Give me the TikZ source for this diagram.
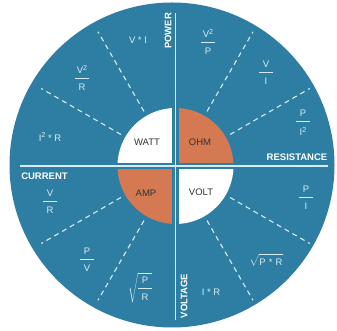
\documentclass[tikz,border=0pt]{standalone}
\usepackage{fontspec}
\setmainfont{Liberation Sans}
\definecolor{dialblue}{HTML}{2E7EA3}
\definecolor{ohmorange}{HTML}{D47952}
\definecolor{paleline}{HTML}{D6ECF4}
\definecolor{unitgray}{HTML}{333333}
% stacked fraction with a short bold bar
\newcommand\fr[2]{\vbox{\offinterlineskip\halign{\hfil##\hfil\cr#1\cr\noalign{\vskip4.5pt}\rule{14pt}{1.3pt}\cr\noalign{\vskip5pt}#2\cr}}}
% raised exponent
\newcommand\sq[1]{\raisebox{3.3pt}{\fontsize{7.2}{8}\selectfont#1}}
\begin{document}
\begin{tikzpicture}[x=1pt,y=1pt,
  axislabel/.style={text=white,font=\fontsize{9.5}{11}\selectfont\bfseries,inner sep=0},
  unitlabel/.style={text=unitgray,font=\fontsize{9.5}{11}\selectfont,inner sep=0},
  formula/.style={text=paleline,font=\fontsize{9.5}{11}\selectfont,inner sep=0},
  divider/.style={paleline,dash pattern=on 5pt off 4pt,line width=1.1pt},
  gap/.style={dialblue,line width=6.5pt},
  axis/.style={paleline,line width=1.6pt}]
\useasboundingbox (0,0) rectangle (337,331);

% dial face
\fill[dialblue] (172,166) circle (162.5);

% centre of the four quadrants and the axis ends
\coordinate (c) at (175.5,165);
\coordinate (top) at (175.5,318);
\coordinate (bottom) at (175.5,11);
\coordinate (left) at (20,165);
\coordinate (right) at (328,165);

% inner quarter discs
\fill[white]     (c) -- ++(-58,0) arc (180:90:58) -- cycle;
\fill[ohmorange] (c) -- ++(0,58) arc (90:0:58) -- cycle;
\fill[ohmorange] (c) -- ++(-58,0) arc (180:270:58) -- cycle;
\fill[white]     (c) -- ++(58,0) arc (0:-90:58) -- cycle;

% dashed sector dividers
\foreach \a in {30,60,120,150,210,240,300,330}
  \draw[divider] (c) ++(\a:63) -- ++(\a:92);

% axes with a blue gap on each side
\draw[gap] (top) -- (bottom);
\draw[gap] (left) -- (right);
\draw[axis] (top) -- (bottom);
\draw[axis] (left) -- (right);

% unit names
\node[unitlabel] (watt) at (147,189) {WATT};
\node[unitlabel] (ohm)  at (200,189) {OHM};
\node[unitlabel] (amp)  at (146,138) {AMP};
\node[unitlabel] (volt) at (201,139) {VOLT};

% quantity names along the axes
\node[axislabel,rotate=90] (power) at (168,300) {POWER};
\node[axislabel,rotate=90] (voltage) at (184,35) {VOLTAGE};
\node[axislabel] (resistance) at (297,173.5) {RESISTANCE};
\node[axislabel] (current) at (44.5,155) {CURRENT};

% power
\node[formula] (p1) at (138,291) {V * I};
\node[formula] (p2) at (82,253) {\fr{V\sq{2}}{R}};
\node[formula] (p3) at (50,194) {I\sq{2} * R};

% resistance
\node[formula] (r1) at (208,289) {\fr{V\sq{2}}{P}};
\node[formula] (r2) at (266,258) {\fr{V}{I}};
\node[formula] (r3) at (303,208) {\fr{P}{I\sq{2}}};

% current
\node[formula] (i1) at (50,129) {\fr{V}{R}};
\node[formula] (i2) at (87,71) {\fr{P}{V}};
\node[formula] (i3) at (140,43) {$\sqrt{\vcenter{\hbox{\fr{P}{R}}}}$};

% voltage
\node[formula] (v1) at (306,133) {\fr{P}{I}};
\node[formula] (v2) at (266,71) {$\sqrt{\rule{0pt}{10.5pt}\hbox{P\,\,*\,\,R}}$};
\node[formula] (v3) at (211,39) {I * R};
\end{tikzpicture}
\end{document}
